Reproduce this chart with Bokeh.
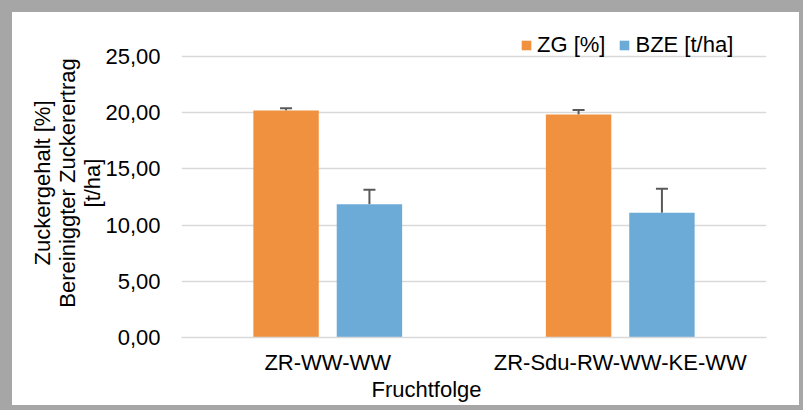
from bokeh.plotting import figure
from bokeh.models import (FactorRange, Range1d, FixedTicker, Whisker, TeeHead,
                          ColumnDataSource, Legend, LegendItem, Title)
from bokeh.transform import dodge
from bokeh.embed import file_html
from bokeh.resources import INLINE

# ---- data ----
categories = ["ZR-WW-WW", "ZR-Sdu-RW-WW-KE-WW"]
zg = [20.2, 19.85]          # Zuckergehalt [%]
zg_err = [0.2, 0.38]
bze = [11.86, 11.09]        # Bereinigter Zuckerertrag [t/ha]
bze_err = [1.28, 2.14]
y_ticks = [0, 5, 10, 15, 20, 25]
y_tick_labels = ["0,00", "5,00", "10,00", "15,00", "20,00", "25,00"]
series_names = ["ZG [%]", "BZE [t/ha]"]

FONT = "Liberation Sans"
ORANGE = "#F0913F"
BLUE = "#6CABD8"
GRID = "#D9D9D9"

src = ColumnDataSource(dict(
    cat=categories,
    zg=zg, zg_up=[v + e for v, e in zip(zg, zg_err)],
    bze=bze, bze_up=[v + e for v, e in zip(bze, bze_err)],
))

p = figure(x_range=FactorRange(factors=categories, range_padding=0),
           y_range=Range1d(0, 27.49),
           width=803, height=410,
           output_backend="svg", toolbar_location=None,
           min_border_left=169, min_border_right=49,
           min_border_top=16, min_border_bottom=85)
p.styles = {"border-style": "solid", "border-color": "#A6A6A6",
            "border-width": "12px 4px 5px 12px", "box-sizing": "border-box",
            "overflow": "hidden"}
p.outline_line_color = None
p.background_fill_color = "white"
p.border_fill_color = "white"

off = 0.1425
bw = 0.2236
r1 = p.vbar(x=dodge("cat", -off, range=p.x_range), top="zg", width=bw,
            source=src, fill_color=ORANGE, line_color=None)
r2 = p.vbar(x=dodge("cat", off, range=p.x_range), top="bze", width=bw,
            source=src, fill_color=BLUE, line_color=None)

for col, up, o in (("zg", "zg_up", -off), ("bze", "bze_up", off)):
    w = Whisker(base=dodge("cat", o, range=p.x_range), lower=col, upper=up,
                source=src, dimension="height",
                line_color="#595959", line_width=2,
                upper_head=TeeHead(size=12, line_color="#595959", line_width=2),
                lower_head=None)
    p.add_layout(w)

# axes
p.yaxis.ticker = FixedTicker(ticks=y_ticks)
p.yaxis.major_label_overrides = {t: l for t, l in zip(y_ticks, y_tick_labels)}
p.yaxis.axis_line_color = None
p.yaxis.major_tick_line_color = None
p.yaxis.minor_tick_line_color = None
p.yaxis.major_tick_out = 0
p.yaxis.major_label_standoff = 21
p.yaxis.axis_label = "Zuckergehalt [%]\nBereiniggter Zuckerertrag\n[t/ha]"
p.yaxis.axis_label_standoff = -3
p.yaxis.axis_label_text_line_height = 1.0
p.yaxis.axis_label_text_font = FONT
p.yaxis.axis_label_text_font_size = "22px"
p.yaxis.axis_label_text_font_style = "normal"
p.yaxis.axis_label_text_color = "black"
p.yaxis.major_label_text_font = FONT
p.yaxis.major_label_text_font_size = "22px"
p.yaxis.major_label_text_color = "black"

p.xaxis.axis_line_color = GRID
p.xaxis.axis_line_width = 1.5
p.xaxis.major_tick_line_color = None
p.xaxis.minor_tick_line_color = None
p.xaxis.major_tick_out = 0
p.xaxis.major_label_standoff = 12
p.xaxis.major_label_text_font = FONT
p.xaxis.major_label_text_font_size = "22px"
p.xaxis.major_label_text_color = "black"

p.xgrid.grid_line_color = None
p.ygrid.grid_line_color = GRID
p.ygrid.grid_line_width = 1.5

p.add_layout(Title(text="Fruchtfolge", align="left", offset=190, standoff=-6,
                   text_font=FONT, text_font_size="22px",
                   text_font_style="normal", text_color="black"), "below")

legend = Legend(items=[LegendItem(label=series_names[0], renderers=[r1]),
                       LegendItem(label=series_names[1], renderers=[r2])],
                orientation="horizontal", location=(339, 279),
                glyph_width=12, glyph_height=12, label_standoff=5, spacing=13,
                padding=0, margin=0, border_line_color=None,
                background_fill_alpha=0,
                label_text_font=FONT, label_text_font_size="22px",
                label_text_color="black")
p.add_layout(legend)

open("out.html", "w").write(file_html(p, INLINE))
